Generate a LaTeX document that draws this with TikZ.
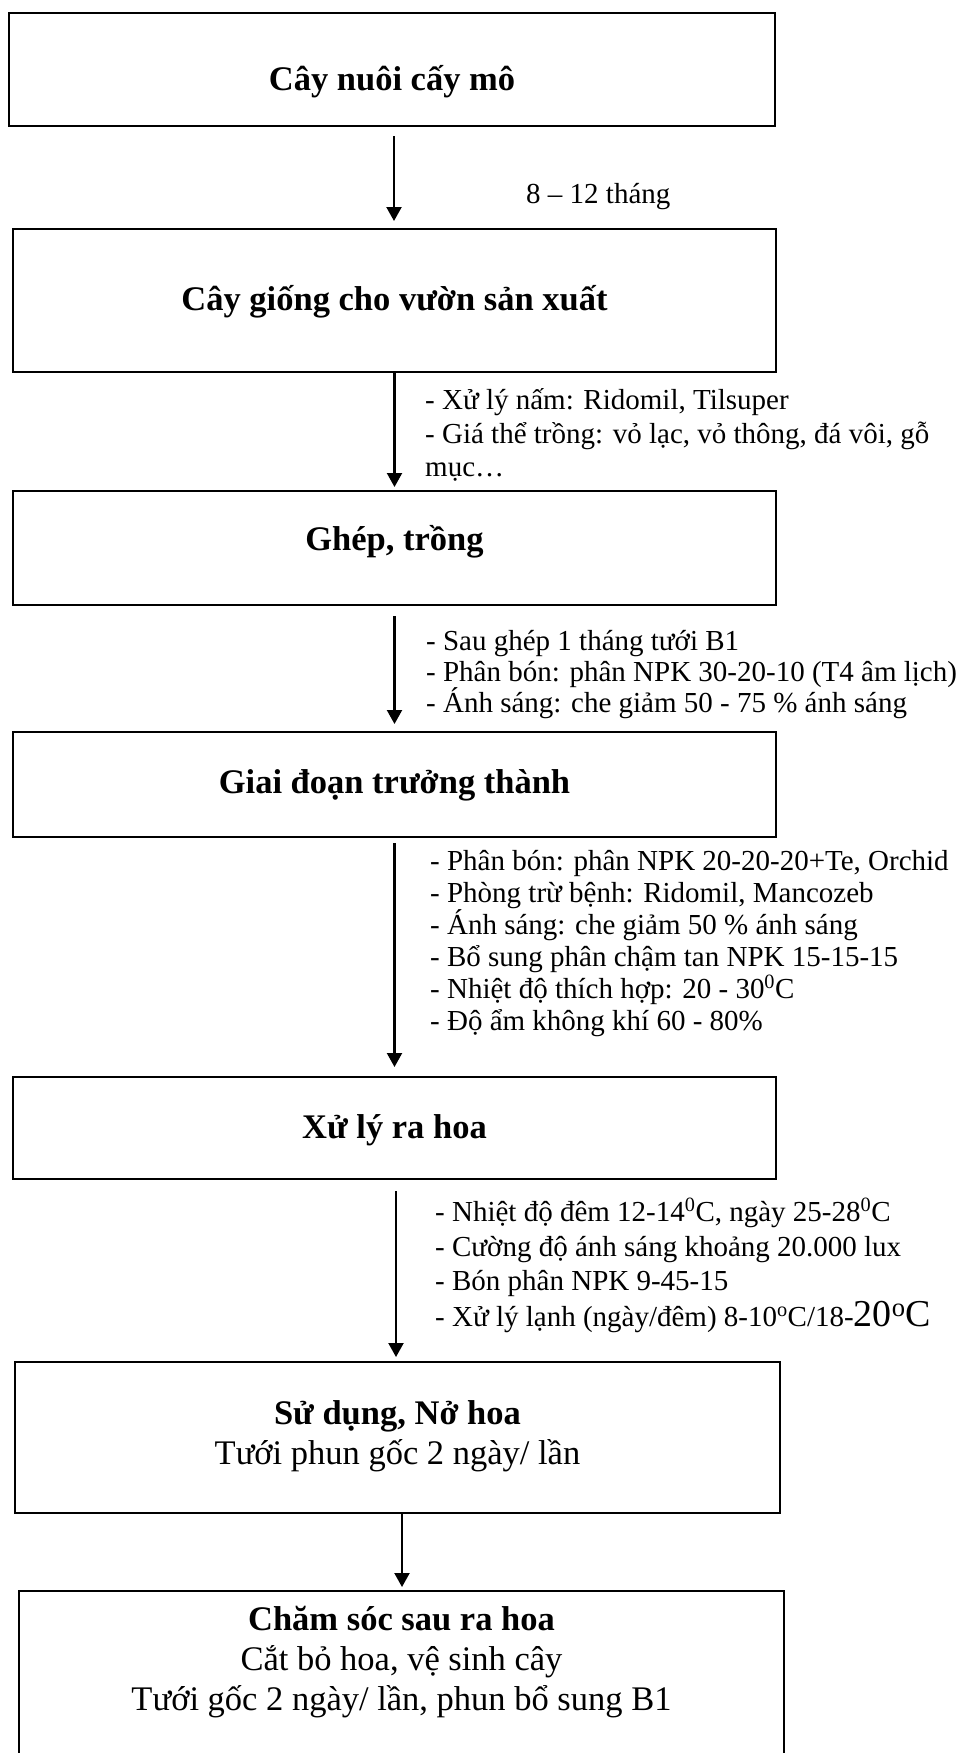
\documentclass[tikz,border=0pt]{standalone}
\usepackage{fontspec}
\setmainfont{Liberation Serif}
\usetikzlibrary{arrows.meta}
\begin{document}
\begin{tikzpicture}[x=1pt,y=-1pt,
  box/.style={draw, line width=2pt, inner sep=0pt},
  ttl/.style={font=\fontsize{34.5}{40}\selectfont, align=center, inner sep=0pt},
  bttl/.style={ttl, font=\fontsize{34.5}{40}\selectfont\bfseries},
  lbl/.style={font=\fontsize{29}{34}\selectfont, anchor=base west, inner sep=0pt},
  arr/.style={line width=2.1pt, -{Triangle[length=14pt,width=15pt]}}]
\useasboundingbox (0,0) rectangle (962,1753);
\fill[white] (0,0) rectangle (962,1753);

% boxes
\node[box, minimum width=766pt, minimum height=113pt] (b1) at (392,69.5) {};
\node[box, minimum width=763pt, minimum height=143pt] (b2) at (394.5,300.5) {};
\node[box, minimum width=763pt, minimum height=114pt] (b3) at (394.5,548) {};
\node[box, minimum width=763pt, minimum height=105pt] (b4) at (394.5,784.5) {};
\node[box, minimum width=763pt, minimum height=102pt] (b5) at (394.5,1128) {};
\node[box, minimum width=765pt, minimum height=151pt] (b6) at (397.5,1437.5) {};
\node[box, minimum width=765pt, minimum height=259pt] (b7) at (401.5,1720.5) {};

% titles
\node[bttl] (t1) at (392,82) {Cây nuôi cấy mô};
\node[bttl] (t2) at (394.5,302) {Cây giống cho vườn sản xuất};
\node[bttl] (t3) at (394.5,542) {Ghép, trồng};
\node[bttl] (t4) at (394.5,785) {Giai đoạn trưởng thành};
\node[bttl] (t5) at (394.5,1130) {Xử lý ra hoa};
\node[ttl] (t6) at (397.5,1436) {\textbf{Sử dụng, Nở hoa}\\Tưới phun gốc 2 ngày/ lần};
\node[ttl] (t7) at (401.5,1662) {\textbf{Chăm sóc sau ra hoa}\\Cắt bỏ hoa, vệ sinh cây\\Tưới gốc 2 ngày/ lần, phun bổ sung B1};

% arrows
\draw[arr, shorten <=9pt, shorten >=7pt] ([xshift=2pt]b1.south) -- ([xshift=2pt]b1.south |- b2.north);
\draw[arr, shorten >=3pt] (b2.south) -- (b3.north);
\draw[arr, shorten <=10pt, shorten >=7pt] (b3.south) -- (b4.north);
\draw[arr, shorten <=5pt, shorten >=9pt] (b4.south) -- (b5.north);
\draw[arr, shorten <=11pt, shorten >=4pt] ([xshift=1.5pt]b5.south) -- ([xshift=1.5pt]b5.south |- b6.north);
\draw[arr, shorten >=3pt] ([xshift=4.5pt]b6.south) -- ([xshift=4.5pt]b6.south |- b7.north);

% labels
\node[lbl] (l1) at (526,203) {8 – 12 tháng};

\node[lbl] (l2a) at (425,409) {- Xử lý nấm: Ridomil, Tilsuper};
\node[lbl] (l2b) at (425,443) {- Giá thể trồng: vỏ lạc, vỏ thông, đá vôi, gỗ};
\node[lbl] (l2c) at (425,476) {mục…};

\node[lbl] (l3a) at (426,650) {- Sau ghép 1 tháng tưới B1};
\node[lbl] (l3b) at (426,681) {- Phân bón: phân NPK 30-20-10 (T4 âm lịch)};
\node[lbl] (l3c) at (426,712) {- Ánh sáng: che giảm 50 - 75 \% ánh sáng};

\node[lbl] (l4a) at (430,870) {- Phân bón: phân NPK 20-20-20+Te, Orchid};
\node[lbl] (l4b) at (430,902) {- Phòng trừ bệnh: Ridomil, Mancozeb};
\node[lbl] (l4c) at (430,934) {- Ánh sáng: che giảm 50 \% ánh sáng};
\node[lbl] (l4d) at (430,966) {- Bổ sung phân chậm tan NPK 15-15-15};
\node[lbl] (l4e) at (430,998) {- Nhiệt độ thích hợp: 20 - 30\textsuperscript{0}C};
\node[lbl] (l4f) at (430,1030) {- Độ ẩm không khí 60 - 80\%};

\node[lbl] (l5a) at (435,1221) {- Nhiệt độ đêm 12-14\textsuperscript{0}C, ngày 25-28\textsuperscript{0}C};
\node[lbl] (l5b) at (435,1256) {- Cường độ ánh sáng khoảng 20.000 lux};
\node[lbl] (l5c) at (435,1290) {- Bón phân NPK 9-45-15};
\node[lbl] (l5d) at (435,1326) {- Xử lý lạnh (ngày/đêm) 8-10\textsuperscript{o}C/18-{\fontsize{38}{44}\selectfont 20\textsuperscript{o}C}};
\end{tikzpicture}
\end{document}
